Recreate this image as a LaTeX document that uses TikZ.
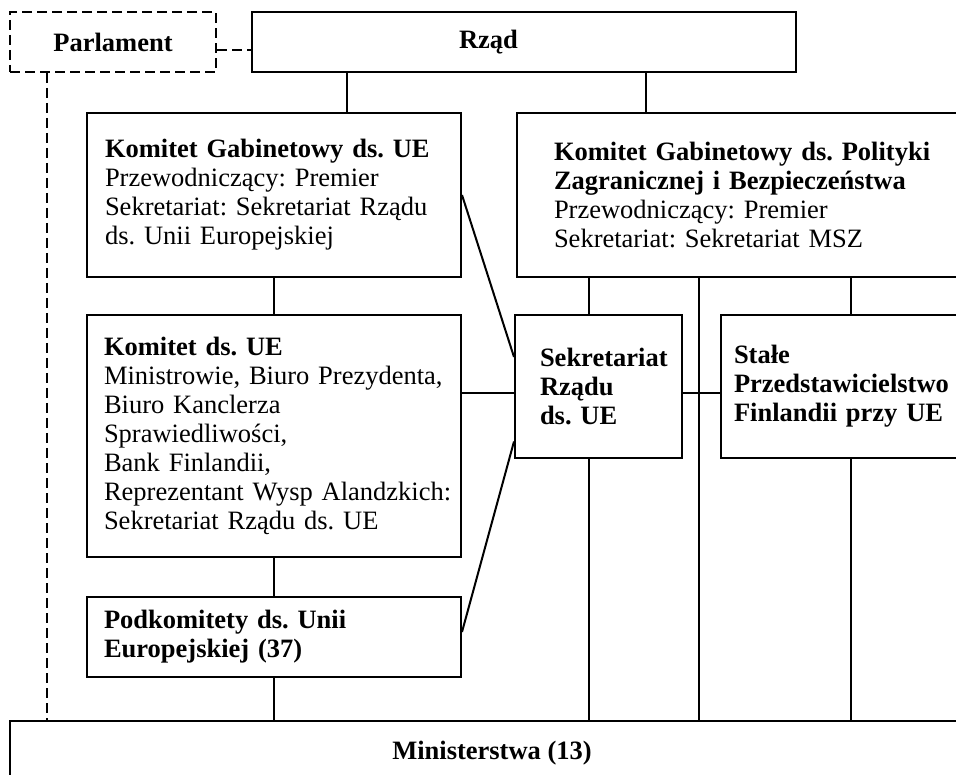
\documentclass[tikz,border=0pt]{standalone}
\usepackage{fontspec}
\setmainfont{Liberation Serif}
\frenchspacing
\hyphenpenalty=10000
\exhyphenpenalty=10000
\hbadness=10000
\hfuzz=50pt
\begin{document}
\begin{tikzpicture}[x=1pt,y=-1pt,
  box/.style={draw, line width=2pt, rectangle, inner sep=0pt, align=left,
              font=\fontsize{26.5}{29}\selectfont},
  ln/.style={line width=2pt},
  dsh/.style={line width=2pt, dash pattern=on 10pt off 5pt}]
\useasboundingbox (0,0) rectangle (956,775);
\clip (0,0) rectangle (956,775);

\node[box, dash pattern=on 10pt off 5pt, align=center, minimum width=206pt, minimum height=60pt] (parl) at (113,42) {\textbf{Parlament}};
\node[box, minimum width=544pt, minimum height=60pt, text width=130pt] (rzad) at (524,42) {\textbf{Rząd}};

\node[box, minimum width=374pt, minimum height=164pt, text width=338pt] (kgue) at (274,195)
  {\textbf{Komitet Gabinetowy ds. UE}\\Przewodniczący: Premier\\Sekretariat: Sekretariat Rządu\\ds. Unii Europejskiej};
\node[box, minimum width=473pt, minimum height=164pt, text width=399pt] (rk) at (753.5,195)
  {\textbf{Komitet Gabinetowy ds. Polityki}\\\textbf{Zagranicznej i Bezpieczeństwa}\\Przewodniczący: Premier\\Sekretariat: Sekretariat MSZ};

\node[box, minimum width=374pt, minimum height=242pt, text width=340pt] (kue) at (274,436)
  {\textbf{Komitet ds. UE}\\Ministrowie, Biuro Prezydenta,\\Biuro Kanclerza\\Sprawiedliwości,\\Bank Finlandii,\\Reprezentant~Wysp~Alandzkich:\\Sekretariat Rządu ds. UE};
\node[box, minimum width=374pt, minimum height=80pt, text width=340pt] (podk) at (274,637)
  {\textbf{Podkomitety ds. Unii}\\\textbf{Europejskiej (37)}};

\node[box, minimum width=167pt, minimum height=143pt, text width=117pt] (sek) at (598.5,386.5)
  {\textbf{Sekretariat}\\\textbf{Rządu}\\\textbf{ds. UE}};
\node[box, minimum width=269pt, minimum height=143pt, text width=243pt] (stale) at (855.5,386.5)
  {\textbf{Stałe}\\\textbf{Przedstawicielstwo}\\\textbf{Finlandii przy UE}};

\node[box, align=center, minimum width=964pt, minimum height=64pt] (mini) at (492,753) {\textbf{Ministerstwa (13)}};

\coordinate (hy) at (0,393);
\coordinate (v589) at (589,0);
\coordinate (v699) at (699,0);
\coordinate (v851) at (851,0);

\draw[dsh] ([yshift=-8pt]parl.east) -- ([yshift=-8pt]parl.east -| rzad.west);
\draw[dsh] ([xshift=-66pt]parl.south) -- ([xshift=-66pt]parl.south |- mini.north);

\draw[ln] ([xshift=-177pt]rzad.south) -- ([xshift=-177pt]rzad.south |- kgue.north);
\draw[ln] ([xshift=122pt]rzad.south) -- ([xshift=122pt]rzad.south |- rk.north);
\draw[ln] (kgue.south) -- (kue.north);
\draw[ln] (kue.south) -- (podk.north);
\draw[ln] (podk.south) -- (podk.south |- mini.north);
\draw[ln] (kue.east |- hy) -- (sek.west |- hy);
\draw[ln] (sek.east |- hy) -- (stale.west |- hy);
\draw[ln] (kgue.east) -- ([yshift=29.5pt]sek.west);
\draw[ln] ([yshift=5pt]podk.east) -- ([yshift=-55pt]sek.west);

\draw[ln] (rk.south -| v589) -- (sek.north -| v589);
\draw[ln] (sek.south -| v589) -- (mini.north -| v589);
\draw[ln] (rk.south -| v699) -- (mini.north -| v699);
\draw[ln] (rk.south -| v851) -- (stale.north -| v851);
\draw[ln] (stale.south -| v851) -- (mini.north -| v851);
\end{tikzpicture}
\end{document}
